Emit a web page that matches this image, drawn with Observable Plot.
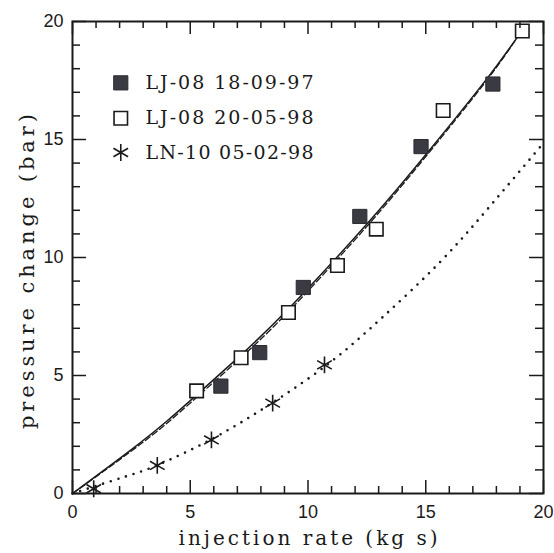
<!DOCTYPE html>
<html><head><meta charset="utf-8">
<script src="https://cdn.jsdelivr.net/npm/d3@7"></script>
<script src="https://cdn.jsdelivr.net/npm/@observablehq/plot@0.6"></script>
<style>body{margin:0;background:#fff;} #chart svg{display:block;}</style>
</head><body><div id="chart"></div>
<script>
// Data
const filledX = [6.3, 7.95, 9.8, 12.2, 14.8, 17.85];
const filledY = [4.55, 5.97, 8.73, 11.74, 14.7, 17.35];
const openX = [5.27, 7.16, 9.17, 11.25, 12.9, 15.74, 19.1];
const openY = [4.35, 5.75, 7.67, 9.66, 11.2, 16.23, 19.6];
const starX = [0.9, 3.6, 5.9, 8.5, 10.7];
const starY = [0.2, 1.19, 2.27, 3.83, 5.45];
const solidX = [0, 2.5, 4.0, 5.3, 7.0, 9.1, 12.5, 15.2, 17.6, 18.9];
const solidY = [0, 1.86, 3.06, 4.2, 5.73, 7.75, 11.42, 14.6, 17.58, 19.35];
const dashedX = [0, 2.5, 4.0, 5.3, 7.0, 9.1, 12.5, 15.2, 17.6, 18.9];
const dashedY = [0, 1.8, 2.97, 4.1, 5.62, 7.64, 11.32, 14.52, 17.52, 19.35];
const dottedX = [0, 2.25, 3.6, 5.9, 8.5, 11.0, 13.2, 15.6, 17.75, 20];
const dottedY = [0, 0.72, 1.2, 2.3, 3.85, 5.6, 7.5, 9.8, 12.2, 14.85];
const legendLabels = ["LJ-08 18-09-97", "LJ-08 20-05-98", "LN-10 05-02-98"];
const majorTicks = [0, 5, 10, 15, 20];
const minorTicks = d3.range(0, 21).filter(v => v % 5 !== 0);
const xTitle = "injection rate (kg s)";
const yTitle = "pressure change (bar)";

const W = 554, H = 553;
const mL = 72, mR = 11, mT = 21, mB = 60;
const fh = H - mT - mB, fw = W - mL - mR;
const toPts = (xs, ys) => xs.map((x, i) => ({x, y: ys[i]}));
const serif = "'DejaVu Serif', 'Liberation Serif', serif";
const sans = "'Liberation Sans', Arial, sans-serif";
const ink = "#1a1a1a";
const legendY = [17.4, 15.9, 14.45];
const legendX = 2.05, legendTextX = 3.1;

const chart = Plot.plot({
  width: W, height: H,
  marginLeft: mL, marginRight: mR, marginTop: mT, marginBottom: mB,
  x: {domain: [0, 20]},
  y: {domain: [0, 20]},
  style: {background: "#fff", overflow: "visible"},
  marks: [
    Plot.line(toPts(dottedX, dottedY), {x: "x", y: "y", curve: "natural", stroke: ink, strokeWidth: 2.6, strokeDasharray: "0,8", strokeLinecap: "round"}),
    Plot.line(toPts(dashedX, dashedY), {x: "x", y: "y", curve: "natural", stroke: ink, strokeWidth: 1.3, strokeDasharray: "6,3"}),
    Plot.line(toPts(solidX, solidY), {x: "x", y: "y", curve: "natural", stroke: ink, strokeWidth: 1.5}),
    Plot.dot(toPts(filledX, filledY), {x: "x", y: "y", symbol: "square", r: 8, fill: "#3a3b42", stroke: "#2a2a30", strokeWidth: 1}),
    Plot.dot(toPts(openX, openY), {x: "x", y: "y", symbol: "square", r: 7.6, fill: "#fff", stroke: ink, strokeWidth: 1.6}),
    Plot.dot(toPts(starX, starY), {x: "x", y: "y", symbol: "asterisk", r: 8, stroke: ink, strokeWidth: 1.6}),
    Plot.dot([0], {x: () => legendX, y: () => legendY[0], symbol: "square", r: 8, fill: "#3a3b42", stroke: "#2a2a30", strokeWidth: 1}),
    Plot.dot([0], {x: () => legendX, y: () => legendY[1], symbol: "square", r: 7.6, fill: "#fff", stroke: ink, strokeWidth: 1.6}),
    Plot.dot([0], {x: () => legendX, y: () => legendY[2], symbol: "asterisk", r: 8, stroke: ink, strokeWidth: 1.6}),
    Plot.text(legendLabels, {x: () => legendTextX, y: (d, i) => legendY[i], text: d => d, textAnchor: "start", lineAnchor: "middle", fontFamily: serif, fontSize: 19, fill: ink}),
    Plot.tickX(majorTicks, {x: d => d, insetTop: fh - 13, stroke: ink, strokeWidth: 1.5}),
    Plot.tickX(minorTicks, {x: d => d, insetTop: fh - 7, stroke: ink, strokeWidth: 1.5}),
    Plot.tickX(majorTicks, {x: d => d, insetBottom: fh - 13, stroke: ink, strokeWidth: 1.5}),
    Plot.tickX(minorTicks, {x: d => d, insetBottom: fh - 7, stroke: ink, strokeWidth: 1.5}),
    Plot.tickY(majorTicks, {y: d => d, insetRight: fw - 14, stroke: ink, strokeWidth: 1.5}),
    Plot.tickY(minorTicks, {y: d => d, insetRight: fw - 8, stroke: ink, strokeWidth: 1.5}),
    Plot.tickY(majorTicks, {y: d => d, insetLeft: fw - 14, stroke: ink, strokeWidth: 1.5}),
    Plot.tickY(minorTicks, {y: d => d, insetLeft: fw - 8, stroke: ink, strokeWidth: 1.5}),
    Plot.frame({stroke: ink, strokeWidth: 2}),
    Plot.axisX(majorTicks, {tickSize: 0, tickPadding: 12, fontSize: 18, fontFamily: sans, fill: ink, label: null, tickFormat: d => String(d)}),
    Plot.axisY(majorTicks, {tickSize: 0, tickPadding: 9, fontSize: 18, fontFamily: sans, fill: ink, label: null, tickFormat: d => String(d)}),
    Plot.text([xTitle], {frameAnchor: "bottom", dy: 45, textAnchor: "middle", lineAnchor: "middle", text: d => d, fontFamily: serif, fontSize: 20, fill: ink}),
    Plot.text([yTitle], {frameAnchor: "left", dx: -45, dy: 14, rotate: -90, textAnchor: "middle", lineAnchor: "middle", text: d => d, fontFamily: serif, fontSize: 21, fill: ink})
  ]
});
// emulate the typewriter-style spacing of the original lettering
const lengths = new Map([[xTitle, 259], [yTitle, 315], ...legendLabels.map(l => [l, 168])]);
d3.select(chart).selectAll("text").each(function() {
  const t = this.textContent;
  if (lengths.has(t)) d3.select(this).attr("textLength", lengths.get(t)).attr("lengthAdjust", "spacing");
});
document.getElementById("chart").appendChild(chart);
</script>
</body></html>
